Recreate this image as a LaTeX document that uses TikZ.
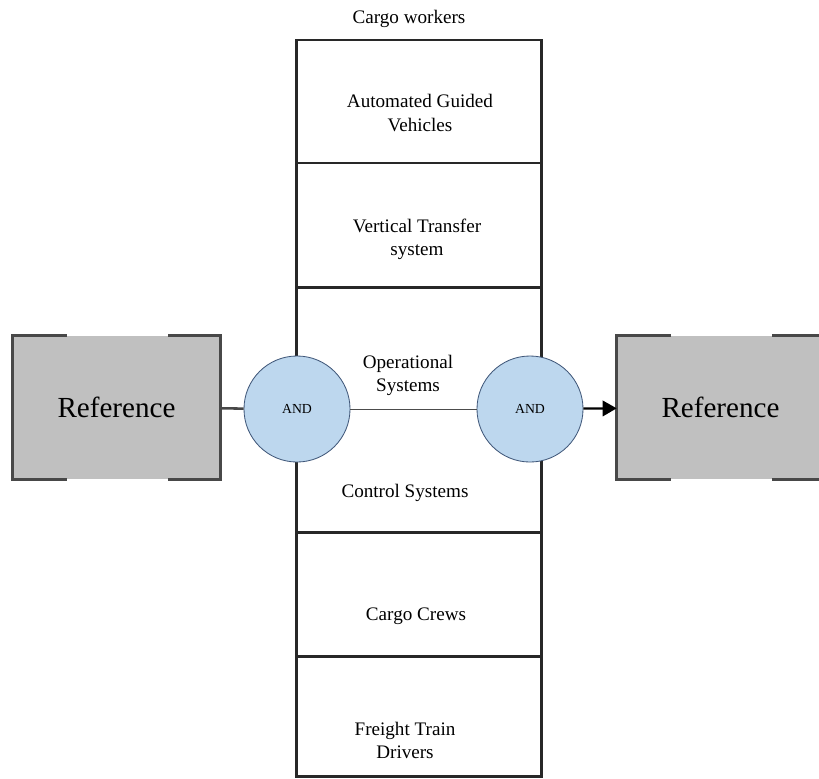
\documentclass[tikz,border=0pt]{standalone}
\usepackage{fontspec}
\setmainfont{Liberation Serif}
\usetikzlibrary{arrows.meta}
\definecolor{gatefill}{RGB}{189,215,238}
\definecolor{gateline}{RGB}{65,88,122}
\definecolor{refgray}{RGB}{192,192,192}
\definecolor{refline}{RGB}{72,72,72}
\definecolor{colline}{RGB}{40,40,40}

\begin{document}
\begin{tikzpicture}[x=0.025cm, y=-0.025cm]
    % Define styles for layers, gates and references
    \tikzstyle{layer}=[rectangle, draw=colline, line width=2.1pt, minimum width=6.1cm, inner sep=0pt]
    \tikzstyle{ref box}=[rectangle, fill=refgray, minimum width=5.175cm, minimum height=3.575cm, inner sep=0pt, font=\fontsize{20.7}{24}\selectfont]
    \tikzstyle{gate}=[circle, draw=gateline, fill=gatefill, line width=0.6pt, minimum size=2.65cm, inner sep=0pt, font=\fontsize{9.8}{11}\selectfont]
    \tikzstyle{box text}=[align=center, font=\fontsize{13.6}{16.4}\selectfont]

    \useasboundingbox (0,0) rectangle (819,778);

    % Column of layers
    \node[layer, minimum height=3.075cm] (L-1) at (419,101.5) {};
    \node[layer, minimum height=3.1cm] (L-2) at (419,225) {};
    \node[layer, minimum height=6.125cm] (L-3) at (419,409.5) {};
    \node[layer, minimum height=3.1cm] (L-4) at (419,594) {};
    \node[layer, minimum height=3.0cm] (L-5) at (419,716) {};

    % Layer texts
    \node[box text] (T-0) at (409,19) {Cargo workers};
    \node[box text] (T-1) at (420,113) {Automated Guided\\Vehicles};
    \node[box text] (T-2) at (417,239) {Vertical Transfer\\system};
    \node[box text] (T-3) at (408,375) {Operational\\Systems};
    \node[box text] (T-4) at (405,493) {Control Systems};
    \node[box text] (T-5) at (416,616) {Cargo Crews};
    \node[box text] (T-6) at (405,740) {Freight Train\\Drivers};

    % Reference boxes
    \node[ref box] (R-L) at (116.5,407.5) {Reference};
    \node[ref box] (R-R) at (720.5,407.5) {Reference};
    \foreach \r in {R-L, R-R} {
        \draw[refline, line width=2.1pt] (\r.north west) ++(54,0) -- (\r.north west) -- (\r.south west) -- ++(54,0);
        \draw[refline, line width=2.1pt] (\r.north east) ++(-52,0) -- (\r.north east) -- (\r.south east) -- ++(-52,0);
    }

    % Gates
    \node[gate] (G-1) at (297,409) {AND};
    \node[gate] (G-2) at (530,409) {AND};

    % Connections
    \draw[refline, line width=1.8pt] (R-L) -- (G-1);
    \draw[black!70, line width=0.6pt] (G-1) -- (G-2);
    \draw[-{Triangle[length=10pt,width=11pt]}, line width=1.6pt] (G-2) -- (R-R);

\end{tikzpicture}
\end{document}
